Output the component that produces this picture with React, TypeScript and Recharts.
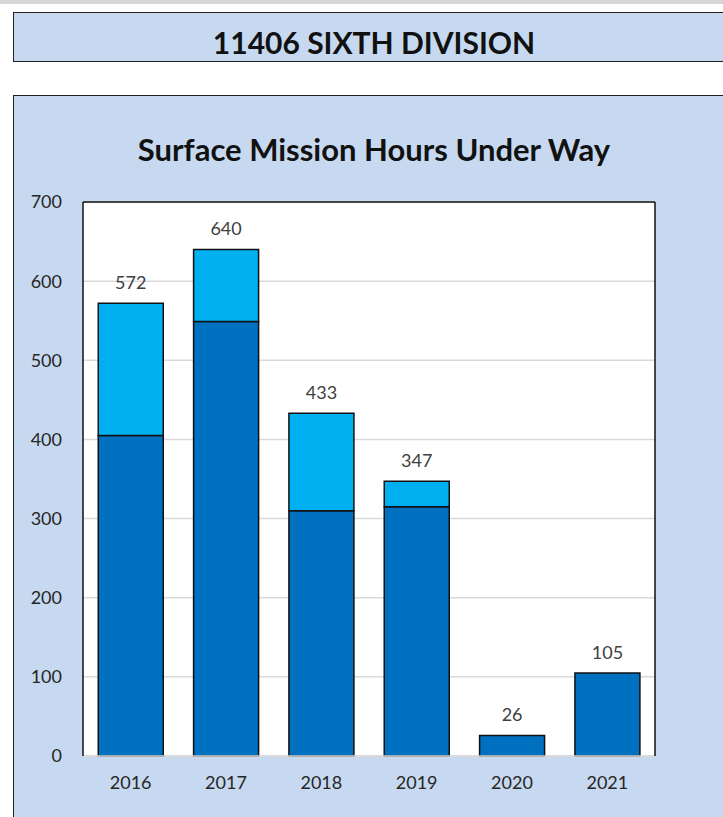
import { BarChart, Bar, XAxis, YAxis, CartesianGrid, LabelList } from 'recharts';

const YEARS = ['2016', '2017', '2018', '2019', '2020', '2021'];
const BASE_HOURS = [405, 549, 310, 315, 26, 105];
const EXTRA_HOURS = [167, 91, 123, 32, 0, 0];
const TOTALS = [572, 640, 433, 347, 26, 105];
const Y_TICKS = [0, 100, 200, 300, 400, 500, 600, 700];

const data = YEARS.map((year, i) => ({
  year,
  base: BASE_HOURS[i],
  extra: EXTRA_HOURS[i],
  total: TOTALS[i],
}));

const FONT = 'Lato, "Open Sans", sans-serif';
const PANEL = '#c6d9f0';

// total label above the stack, placed using the base bar's own pixel scale
function TotalLabel(props: any) {
  const vb = props.viewBox ?? props;
  const { x, y, width, height } = vb;
  const i = props.index ?? 0;
  const base = BASE_HOURS[i];
  const total = TOTALS[i];
  if (!base || height == null) return null;
  const pxPerUnit = height / base;
  const top = y + height - total * pxPerUnit;
  return (
    <text x={x + width / 2} y={top - 14} textAnchor="middle" fill="#404040" fontSize={18} fontFamily={FONT}>
      {total}
    </text>
  );
}

export default function App() {
  return (
    <div style={{ position: 'fixed', left: 0, top: 0, width: 723, height: 817, background: '#fff', overflow: 'hidden', fontFamily: FONT }}>
      {/* grey strip at the top */}
      <div style={{ position: 'absolute', left: 0, top: 0, width: 723, height: 4, background: '#d6d6d6' }} />

      {/* header */}
      <div
        style={{
          position: 'absolute', left: 13, top: 12, width: 740, height: 50,
          background: PANEL, border: '1px solid #222', boxSizing: 'border-box',
        }}
      />
      <div style={{ position: 'absolute', left: 13, top: 17, width: 722, height: 50, lineHeight: '50px', textAlign: 'center', fontWeight: 700, fontSize: 30, color: '#111' }}>
        11406 SIXTH DIVISION
      </div>

      {/* chart panel */}
      <div
        style={{
          position: 'absolute', left: 13, top: 95, width: 740, height: 760,
          background: PANEL, border: '1px solid #222', boxSizing: 'border-box',
        }}
      />
      <div style={{ position: 'absolute', left: 13, top: 127, width: 722, height: 44, lineHeight: '44px', textAlign: 'center', fontWeight: 700, fontSize: 31, color: '#111' }}>
        Surface Mission Hours Under Way
      </div>

      <div style={{ position: 'absolute', left: 0, top: 0 }}>
        <BarChart
          width={723}
          height={817}
          data={data}
          margin={{ top: 201, right: 67, bottom: 31, left: 0 }}
          barCategoryGap="16%"
        >
          <CartesianGrid vertical={false} stroke="#d9d9d9" strokeWidth={1.5} fill="#fff" />
          <XAxis
            dataKey="year"
            height={30}
            tickLine={false}
            axisLine={{ stroke: '#d9d9d9', strokeWidth: 1.5 }}
            tickMargin={14}
            tick={{ fill: '#262626', fontSize: 18, fontFamily: FONT }}
          />
          <XAxis xAxisId="top" dataKey="year" orientation="top" height={1} tick={false} tickLine={false} axisLine={{ stroke: '#111', strokeWidth: 1.5 }} />
          <YAxis
            width={83}
            domain={[0, 700]}
            ticks={Y_TICKS}
            tickSize={0}
            tickMargin={21}
            axisLine={{ stroke: '#111', strokeWidth: 1.5 }}
            tick={{ fill: '#262626', fontSize: 18, fontFamily: FONT }}
          />
          <YAxis yAxisId="right" orientation="right" width={1} domain={[0, 700]} ticks={Y_TICKS} tick={false} tickLine={false} axisLine={{ stroke: '#111', strokeWidth: 1.5 }} />
          <Bar dataKey="base" stackId="a" fill="#0070c0" stroke="#111" strokeWidth={1.5} isAnimationActive={false}>
            <LabelList dataKey="total" content={TotalLabel} />
          </Bar>
          <Bar dataKey="extra" stackId="a" fill="#00b0f0" stroke="#111" strokeWidth={1.5} isAnimationActive={false} />
        </BarChart>
      </div>
    </div>
  );
}
